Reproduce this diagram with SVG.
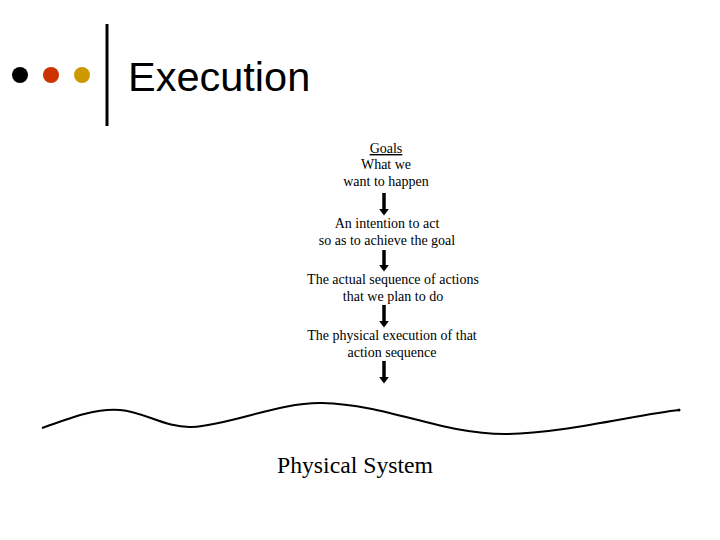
<svg xmlns="http://www.w3.org/2000/svg" width="720" height="540" viewBox="0 0 720 540">
<defs>
<style>
.t{font-family:"Liberation Serif","Times New Roman",serif;font-size:14px;fill:#000;text-anchor:middle}
.arr{stroke:#000;stroke-width:3.5;fill:none;marker-end:url(#ah)}
</style>
<marker id="ah" markerWidth="3" markerHeight="3" refX="1" refY="1.5" orient="auto" markerUnits="strokeWidth">
<path d="M0,0 L2,1.5 L0,3 Z" fill="#000"/>
</marker>
</defs>
<rect width="720" height="540" fill="#fff"/>
<g id="title">
<circle cx="20" cy="75" r="8" fill="#000"/>
<circle cx="51" cy="75" r="8" fill="#CC3300"/>
<circle cx="82" cy="75" r="8" fill="#CC9900"/>
<line x1="107" y1="24" x2="107" y2="126" stroke="#000" stroke-width="3"/>
<text x="128" y="91" font-family="Liberation Sans, Arial, sans-serif" font-size="41.5">Execution</text>
</g>
<g id="goals">
<text class="t" x="386" y="153" text-decoration="underline">Goals</text>
<text class="t" x="386" y="169">What we</text>
<text class="t" x="386" y="186">want to happen</text>
</g>
<g id="intention">
<text class="t" x="387" y="228">An intention to act</text>
<text class="t" x="387" y="245">so as to achieve the goal</text>
</g>
<g id="sequence">
<text class="t" x="393" y="284">The actual sequence of actions</text>
<text class="t" x="393" y="301">that we plan to do</text>
</g>
<g id="physical">
<text class="t" x="392" y="340">The physical execution of that</text>
<text class="t" x="392" y="357">action sequence</text>
</g>
<g id="system">
<path d="M42,428 C70,418 95,408 120,410 C145,412 165,428 192,427 C230,425 280,402 322,403 C390,405 440,434 505,434 C560,434 640,414 679,410" fill="none" stroke="#000" stroke-width="2"/>
<circle cx="679" cy="410" r="1.5" fill="#000"/>
<text x="355" y="473" font-family="Liberation Serif, Times New Roman, serif" font-size="23" text-anchor="middle" textLength="156" lengthAdjust="spacingAndGlyphs">Physical System</text>
</g>
<g id="connectors">
<line class="arr" x1="384" y1="193" x2="384" y2="212"/>
<line class="arr" x1="384" y1="250" x2="384" y2="268"/>
<line class="arr" x1="384" y1="305" x2="384" y2="324"/>
<line class="arr" x1="384" y1="361" x2="384" y2="380"/>
</g>
</svg>
